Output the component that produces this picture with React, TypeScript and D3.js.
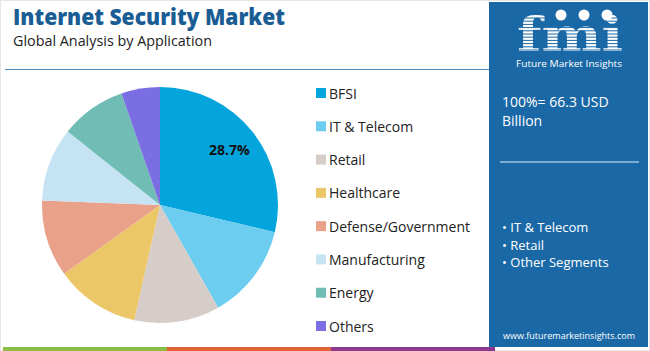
import React from 'react';
import * as d3 from 'd3';

const categories = ['BFSI', 'IT & Telecom', 'Retail', 'Healthcare', 'Defense/Government', 'Manufacturing', 'Energy', 'Others'];
const shares = [28.7, 13.1, 11.7, 11.6, 10.5, 10.1, 9.0, 5.3];
const colors = ['#04a4dc', '#6ccdf0', '#d6cdc9', '#ebc767', '#e9a189', '#c5e3f3', '#70bdb6', '#7b6de2'];
const segments = ['IT & Telecom', 'Retail', 'Other Segments'];
const totalLabel = ['100%= 66.3 USD', 'Billion'];
const stripeColors = ['#8bbc45', '#e2623a', '#8e3a8e'];

const W = 650;
const H = 351;
const font = '"Open Sans", sans-serif';

export default function App() {
    const cx = 160;
    const cy = 205;
    const r = 118;

    const pie = d3.pie<number>().sort(null).value(d => d)(shares);
    const arc = d3.arc<d3.PieArcDatum<number>>().innerRadius(0).outerRadius(r);

    const legendY = d3.scalePoint<string>().domain(categories).range([93, 326]);
    const stripeX = d3.scaleBand<string>().domain(stripeColors).range([3, 495]).padding(0);

    const labelPos = d3.arc<d3.PieArcDatum<number>>().innerRadius(r * 0.75).outerRadius(r * 0.75).centroid(pie[0]);

    const panel = '#1a69a6';

    return (
        <svg width={W} height={H} style={{ position: 'absolute', left: 0, top: 0 }} fontFamily={font}>
            <rect x={0.5} y={0.5} width={W - 1} height={H - 1} fill="#fff" stroke="#e6e6e6" />

            {/* heading */}
            <text x={13} y={25} fontSize={22} fontWeight={800} fill="#1a5d94" textLength={272} lengthAdjust="spacingAndGlyphs">Internet Security Market</text>
            <text x={13} y={45.5} fontSize={14.5} fill="#222" textLength={199} lengthAdjust="spacingAndGlyphs">Global Analysis by Application</text>
            <line x1={5} x2={489} y1={69.5} y2={69.5} stroke="#4a8cc0" strokeWidth={1.2} />

            {/* pie */}
            <g transform={`translate(${cx},${cy})`}>
                {pie.map((d, i) => (
                    <path key={categories[i]} d={arc(d) || ''} fill={colors[i]} />
                ))}
                <text x={labelPos[0]} y={labelPos[1] + 1} fontSize={14} fontWeight={700} fill="#111" textAnchor="middle"
                    dominantBaseline="middle">{shares[0].toFixed(1)}%</text>
            </g>

            {/* legend */}
            {categories.map((c, i) => (
                <g key={c} transform={`translate(316,${legendY(c)})`}>
                    <rect x={0} y={-5} width={10} height={10} fill={colors[i]} />
                    <text x={13} y={0} dominantBaseline="central" fontSize={14} fill="#222">{c}</text>
                </g>
            ))}

            {/* right panel */}
            <rect x={489} y={2} width={159} height={345} fill={panel} />
            <g>
                <text x={570} y={51} textAnchor="middle" fontSize={46} fontWeight={700} fill="#fff"
                    fontFamily='"DejaVu Serif", serif' textLength={106} lengthAdjust="spacingAndGlyphs">fmi</text>
                {d3.range(18, 53, 3.2).map(y => (
                    <line key={y} x1={512} x2={630} y1={y} y2={y} stroke={panel} strokeWidth={1} />
                ))}
                <circle cx={561} cy={15} r={5.5} fill="#fff" />
                <circle cx={584} cy={15} r={5.5} fill="#fff" />
                <circle cx={607} cy={15} r={5.5} fill="#fff" />
                <text x={569} y={67} textAnchor="middle" fontSize={9} fill="#fff" textLength={106} lengthAdjust="spacingAndGlyphs">Future Market Insights</text>
            </g>
            {totalLabel.map((t, i) => (
                <text key={t} x={502} y={107 + i * 19} fontSize={14} fill="#fff">{t}</text>
            ))}
            <line x1={500} x2={639} y1={162} y2={162} stroke="#9cc3e2" strokeWidth={1.3} />
            {segments.map((s, i) => (
                <text key={s} x={502} y={232 + i * 17.5} fontSize={13} fill="#fff">{'\u2022 ' + s}</text>
            ))}
            <text x={569} y={339} textAnchor="middle" fontSize={9} fill="#fff">www.futuremarketinsights.com</text>

            {/* bottom stripe */}
            {stripeColors.map(c => (
                <rect key={c} x={stripeX(c)} y={347} width={stripeX.bandwidth()} height={4} fill={c} />
            ))}
        </svg>
    );
}
